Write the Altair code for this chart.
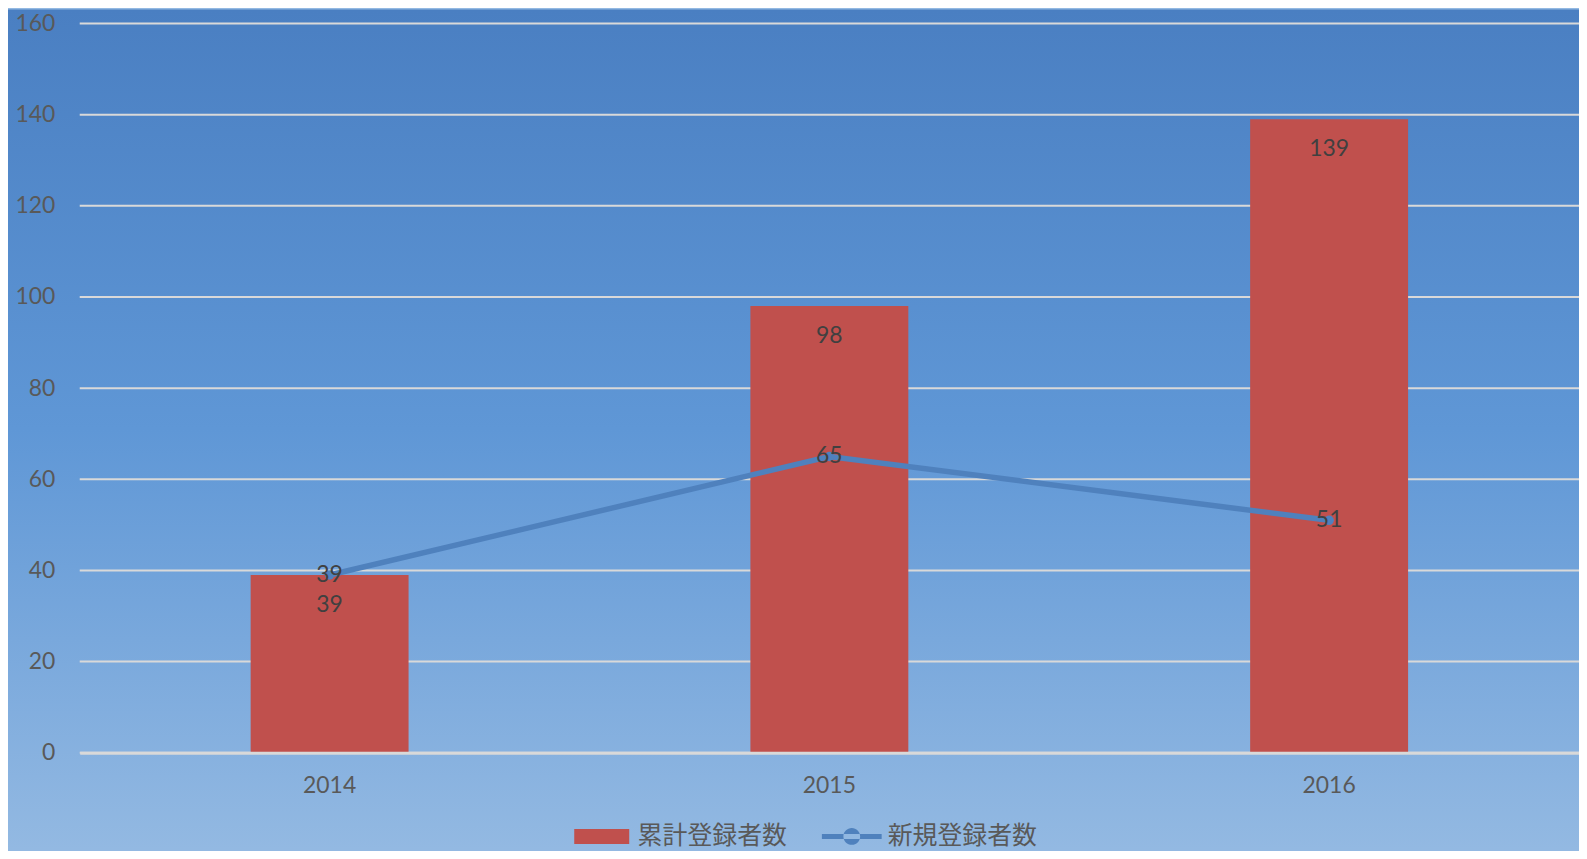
import altair as alt
import pandas as pd

years = ["2014", "2015", "2016"]
cumulative = [39, 98, 139]
new_regs = [39, 65, 51]
series_names = ["累計登録者数", "新規登録者数"]
y_ticks = [0, 20, 40, 60, 80, 100, 120, 140, 160]

BAR_COLOR = "#c0504d"
LINE_COLOR = "#4f81bd"
W, H = 1505, 732
PAD = {"left": 72, "top": 14, "right": 0, "bottom": 97}

df = pd.DataFrame({"year": years, "cum": cumulative, "new": new_regs})
legend_df = pd.DataFrame({"series": series_names})
grid_df = pd.DataFrame({"v": y_ticks})

x_enc = alt.X("year:N", sort=years, title=None,
              scale=alt.Scale(paddingInner=0.684, paddingOuter=0.342),
              axis=alt.Axis(labelAngle=0, ticks=False, domain=True, domainColor="#d9d9d9",
                            domainWidth=3, labelPadding=22, labelFont="Lato", labelFontSize=23,
                            labelColor="#595959", grid=False, zindex=1))
y_scale = alt.Scale(domain=[0, 160], nice=False)

gradient = alt.LinearGradient(
    gradient="linear", x1=0, y1=0, x2=0, y2=1,
    stops=[alt.GradientStop(color="#4a7fc2", offset=0),
           alt.GradientStop(color="#5f97d6", offset=0.5),
           alt.GradientStop(color="#93b9e2", offset=1)])

bg = alt.Chart(alt.Data(values=[{"a": 1}])).mark_rect(fill=gradient, clip=False).encode(
    x=alt.value(-PAD["left"]), x2=alt.value(W + PAD["right"]),
    y=alt.value(-PAD["top"]), y2=alt.value(H + PAD["bottom"]))

grid = alt.Chart(grid_df).mark_rule(color="#d9d9d9", strokeWidth=2).encode(
    y=alt.Y("v:Q", scale=y_scale))

base = alt.Chart(df)

bars = base.mark_bar(color=BAR_COLOR).encode(
    x=x_enc,
    y=alt.Y("cum:Q", scale=y_scale, title=None,
            axis=alt.Axis(values=y_ticks, ticks=False, domain=False, labelPadding=25,
                          labelFont="Lato", labelFontSize=23, labelColor="#595959",
                          grid=False, zindex=1)))

bar_labels = base.mark_text(font="Lato", fontSize=23, color="#404040", baseline="middle", dy=30).encode(
    x=alt.X("year:N", sort=years), y=alt.Y("cum:Q", scale=y_scale), text="cum:Q")

line = base.mark_line(color=LINE_COLOR, strokeWidth=5.5).encode(
    x=alt.X("year:N", sort=years), y=alt.Y("new:Q", scale=y_scale))

points = base.mark_point(filled=True, color=LINE_COLOR, size=90, opacity=1).encode(
    x=alt.X("year:N", sort=years), y=alt.Y("new:Q", scale=y_scale))

line_labels = base.mark_text(font="Lato", fontSize=23, color="#404040", baseline="middle").encode(
    x=alt.X("year:N", sort=years), y=alt.Y("new:Q", scale=y_scale), text="new:Q")

rect_path = "M-0.92,-0.25H0.92V0.25H-0.92Z"
line_path = ("M-1,-0.085H1V0.085H-1Z M-0.28,0 A0.28,0.28 0 1,0 0.28,0 "
             "A0.28,0.28 0 1,0 -0.28,0 Z")

leg = alt.Legend(title=None, orient="none", direction="horizontal", legendX=494, legendY=786,
                 symbolSize=3600, symbolOpacity=1, symbolStrokeWidth=0,
                 labelFont="Noto Sans CJK JP", labelFontSize=25, labelColor="#595959",
                 labelOffset=6, columnPadding=34, padding=0)

legend_layer = alt.Chart(legend_df).mark_point(filled=True, opacity=0).encode(
    color=alt.Color("series:N", sort=series_names,
                    scale=alt.Scale(domain=series_names, range=[BAR_COLOR, LINE_COLOR]), legend=leg),
    shape=alt.Shape("series:N", sort=series_names,
                    scale=alt.Scale(domain=series_names, range=[rect_path, line_path]), legend=leg))

chart = alt.layer(bg, grid, bars, bar_labels, line, points, line_labels, legend_layer).properties(
    width=W, height=H,
    autosize=alt.AutoSizeParams(type="none"),
    padding=PAD,
    background="#93b9e2",
).configure_view(stroke=None)

chart.save("out.html", embed_options={"renderer": "svg", "actions": False})
